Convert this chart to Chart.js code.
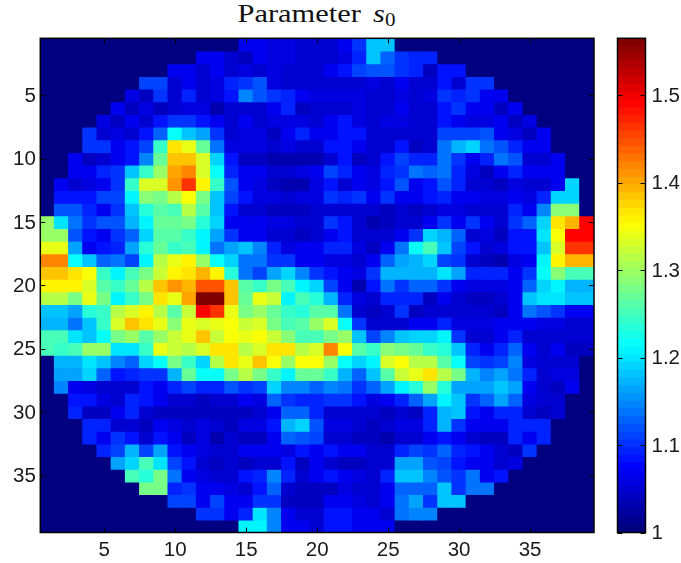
<html>

<head>
  <title>Parameter s0</title>
  <style>
    html, body { margin: 0; padding: 0; background: #fff; }
    #wrap { position: relative; width: 681px; height: 563px; overflow: hidden; }
    canvas { position: absolute; top: 0; }
    #map { left: 0; }
    #bar { left: 600px; }
    #title {
      position: absolute; left: 0; width: 634px; top: 0; text-align: center;
      font: 26px "Liberation Serif", serif; color: #111; line-height: 28px;
    }
    #title span { display: inline-block; transform: scaleX(1.17); white-space: nowrap; }
    #title i { margin-left: 4px; }
    #title sub { font-size: 18px; line-height: 0; font-style: normal; vertical-align: -4px; }
  </style>
  <script src="https://cdnjs.cloudflare.com/ajax/libs/Chart.js/4.4.1/chart.umd.js"></script>
</head>

<body>
  <div id="wrap">
    <div id="title"><span>Parameter <i>s</i><sub>0</sub></span></div>
    <canvas id="map" width="600" height="563"></canvas>
    <canvas id="bar" width="81" height="563"></canvas>
  </div>

  <script>
    const xTicks = [5, 10, 15, 20, 25, 30, 35];
    const yTicks = [5, 10, 15, 20, 25, 30, 35];
    const barTicks = [1, 1.1, 1.2, 1.3, 1.4, 1.5];
    const barMin = 1;
    const barMax = 1.565;
    const columns = [];
    for (let c = 1; c <= 39; c++) columns.push(c);

    const row01 = [1,1,1,1,1,1,1,1,1,1,1,1,1,1, 1.07,1.07,1.06,1.06,1.05,1.05,1.05,1.07,1.1,1.18,1.18, 1,1,1,1,1,1,1,1,1,1,1,1,1,1];
    const row02 = [1,1,1,1,1,1,1,1,1,1,1, 1.07,1.07,1.05,1.04,1.07,1.06,1.06,1.05,1.05,1.05,1.06,1.09,1.18,1.13,1.1,1.09,1.09, 1,1,1,1,1,1,1,1,1,1,1];
    const row03 = [1,1,1,1,1,1,1,1,1, 1.07,1.07,1.05,1.07,1.05,1.06,1.05,1.06,1.05,1.05,1.05,1.07,1.08,1.11,1.12,1.12,1.1,1.09,1.04,1.08,1.08, 1,1,1,1,1,1,1,1,1];
    const row04 = [1,1,1,1,1,1,1, 1.11,1.11,1.05,1.07,1.05,1.06,1.09,1.1,1.12,1.06,1.05,1.05,1.05,1.05,1.05,1.05,1.06,1.05,1.07,1.05,1.05,1.08,1.05,1.1,1.1, 1,1,1,1,1,1,1];
    const row05 = [1,1,1,1,1,1, 1.06,1.04,1.1,1.05,1.09,1.05,1.06,1.08,1.15,1.12,1.1,1.09,1.07,1.06,1.06,1.06,1.06,1.05,1.05,1.06,1.05,1.06,1.1,1.09,1.1,1.07,1.07, 1,1,1,1,1,1];
    const row06 = [1,1,1,1,1, 1.07,1.04,1.06,1.04,1.05,1.06,1.06,1.03,1.05,1.05,1.05,1.07,1.09,1.04,1.05,1.05,1.05,1.06,1.05,1.05,1.07,1.05,1.05,1.08,1.1,1.07,1.07,1.04,1.07, 1,1,1,1,1];
    const row07 = [1,1,1,1, 1.06,1.04,1.07,1.05,1.08,1.1,1.1,1.08,1.07,1.05,1.07,1.05,1.06,1.06,1.06,1.05,1.07,1.08,1.06,1.05,1.06,1.06,1.05,1.05,1.08,1.07,1.06,1.06,1.07,1.04,1.06, 1,1,1,1];
    const row08 = [1,1,1, 1.1,1.05,1.06,1.05,1.08,1.13,1.22,1.18,1.16,1.1,1.05,1.06,1.06,1.04,1.07,1.09,1.07,1.07,1.08,1.08,1.05,1.05,1.05,1.05,1.05,1.11,1.11,1.11,1.12,1.07,1.06,1.04,1.07, 1,1,1];
    const row09 = [1,1,1, 1.1,1.1,1.07,1.08,1.11,1.24,1.37,1.34,1.27,1.14,1.06,1.06,1.06,1.05,1.06,1.05,1.05,1.08,1.08,1.07,1.05,1.05,1.08,1.04,1.05,1.14,1.17,1.19,1.14,1.12,1.09,1.07,1.07, 1,1,1];
    const row10 = [1,1, 1.07,1.04,1.05,1.07,1.08,1.15,1.27,1.38,1.38,1.33,1.19,1.08,1.04,1.04,1.03,1.03,1.03,1.03,1.05,1.08,1.04,1.05,1.08,1.11,1.09,1.09,1.14,1.1,1.07,1.09,1.14,1.12,1.05,1.05,1.07, 1,1];
    const row11 = [1,1, 1.07,1.07,1.09,1.1,1.18,1.24,1.3,1.4,1.42,1.33,1.22,1.09,1.07,1.07,1.05,1.05,1.06,1.07,1.11,1.09,1.07,1.06,1.09,1.1,1.14,1.13,1.14,1.09,1.06,1.04,1.07,1.09,1.07,1.07,1.07, 1,1];
    const row12 = [1, 1.07,1.05,1.06,1.07,1.1,1.24,1.33,1.33,1.41,1.46,1.36,1.24,1.12,1.07,1.06,1.04,1.03,1.03,1.06,1.08,1.05,1.07,1.06,1.08,1.12,1.07,1.08,1.12,1.09,1.05,1.05,1.04,1.06,1.05,1.05,1.07,1.19, 1];
    const row13 = [1, 1.08,1.08,1.08,1.11,1.11,1.21,1.29,1.28,1.31,1.35,1.28,1.18,1.11,1.08,1.06,1.06,1.05,1.06,1.06,1.1,1.09,1.1,1.07,1.1,1.07,1.07,1.08,1.09,1.07,1.07,1.06,1.06,1.07,1.06,1.09,1.19,1.19, 1];
    const row14 = [1, 1.12,1.12,1.09,1.07,1.1,1.18,1.23,1.26,1.25,1.31,1.26,1.18,1.08,1.05,1.05,1.04,1.04,1.04,1.05,1.05,1.05,1.05,1.05,1.04,1.05,1.04,1.05,1.06,1.06,1.05,1.05,1.05,1.09,1.07,1.15,1.29,1.29, 1];
    const row15 = [1.3,1.2,1.14,1.1,1.12,1.12,1.17,1.21,1.27,1.27,1.28,1.23,1.19,1.07,1.07,1.07,1.06,1.06,1.05,1.05,1.1,1.08,1.05,1.03,1.04,1.05,1.05,1.07,1.1,1.07,1.1,1.07,1.05,1.1,1.13,1.19,1.37,1.39,1.49];
    const row16 = [1.3,1.3,1.12,1.08,1.07,1.1,1.13,1.19,1.26,1.26,1.24,1.21,1.16,1.1,1.07,1.07,1.05,1.05,1.04,1.05,1.07,1.08,1.05,1.05,1.05,1.07,1.1,1.19,1.17,1.13,1.05,1.06,1.04,1.08,1.08,1.2,1.35,1.49,1.49];
    const row17 = [1.34,1.34,1.16,1.07,1.08,1.09,1.16,1.23,1.27,1.24,1.25,1.21,1.14,1.16,1.18,1.15,1.09,1.06,1.07,1.07,1.09,1.09,1.06,1.04,1.07,1.14,1.22,1.25,1.18,1.11,1.08,1.05,1.06,1.08,1.08,1.18,1.33,1.46,1.46];
    const row18 = [1.42,1.42,1.22,1.18,1.13,1.14,1.11,1.21,1.31,1.34,1.36,1.3,1.22,1.19,1.14,1.14,1.1,1.1,1.07,1.07,1.06,1.06,1.05,1.07,1.13,1.16,1.17,1.19,1.11,1.1,1.05,1.04,1.03,1.06,1.07,1.21,1.36,1.39,1.39];
    const row19 = [1.38,1.38,1.37,1.35,1.24,1.21,1.25,1.28,1.32,1.36,1.37,1.39,1.36,1.23,1.14,1.11,1.16,1.19,1.15,1.1,1.08,1.07,1.06,1.1,1.17,1.17,1.17,1.17,1.2,1.16,1.09,1.09,1.09,1.07,1.1,1.22,1.29,1.25,1.25];
    const row20 = [1.36,1.36,1.36,1.33,1.26,1.24,1.27,1.31,1.38,1.41,1.39,1.45,1.45,1.38,1.26,1.24,1.28,1.25,1.21,1.19,1.11,1.07,1.03,1.08,1.14,1.1,1.13,1.13,1.1,1.07,1.06,1.06,1.06,1.07,1.13,1.19,1.21,1.17,1.17];
    const row21 = [1.31,1.31,1.28,1.34,1.28,1.21,1.24,1.28,1.37,1.34,1.4,1.56,1.56,1.38,1.27,1.34,1.32,1.21,1.25,1.23,1.17,1.09,1.06,1.05,1.09,1.09,1.09,1.04,1.07,1.05,1.04,1.04,1.05,1.07,1.18,1.2,1.2,1.18,1.18];
    const row22 = [1.18,1.18,1.16,1.23,1.24,1.31,1.33,1.36,1.31,1.26,1.32,1.49,1.46,1.34,1.28,1.3,1.27,1.24,1.23,1.26,1.26,1.14,1.05,1.04,1.05,1.1,1.04,1.05,1.05,1.05,1.05,1.05,1.04,1.07,1.14,1.12,1.1,1.07,1.07];
    const row23 = [1.17,1.17,1.14,1.18,1.24,1.33,1.38,1.37,1.34,1.29,1.34,1.33,1.34,1.35,1.32,1.33,1.28,1.25,1.26,1.3,1.33,1.22,1.1,1.05,1.05,1.05,1.07,1.07,1.09,1.06,1.06,1.06,1.07,1.07,1.07,1.06,1.06,1.05,1.05];
    const row24 = [1.25,1.25,1.2,1.18,1.22,1.28,1.3,1.26,1.3,1.32,1.34,1.38,1.32,1.35,1.34,1.35,1.32,1.29,1.25,1.25,1.28,1.3,1.18,1.11,1.15,1.18,1.19,1.19,1.21,1.1,1.05,1.05,1.07,1.09,1.05,1.05,1.05,1.05,1.05];
    const row25 = [1.25,1.24,1.25,1.3,1.3,1.2,1.2,1.24,1.34,1.32,1.31,1.33,1.37,1.37,1.31,1.33,1.37,1.37,1.31,1.33,1.42,1.35,1.26,1.24,1.29,1.28,1.27,1.24,1.23,1.18,1.09,1.07,1.09,1.13,1.07,1.05,1.07,1.04,1.04];
    const row26 = [1, 1.17,1.17,1.2,1.18,1.15,1.13,1.19,1.22,1.28,1.24,1.19,1.31,1.37,1.34,1.38,1.35,1.3,1.35,1.35,1.3,1.22,1.19,1.21,1.33,1.35,1.31,1.31,1.26,1.22,1.11,1.1,1.11,1.15,1.06,1.05,1.05,1.05, 1];
    const row27 = [1, 1.16,1.16,1.19,1.13,1.08,1.09,1.1,1.1,1.17,1.27,1.22,1.22,1.28,1.31,1.28,1.24,1.21,1.27,1.27,1.24,1.17,1.13,1.18,1.26,1.32,1.34,1.37,1.31,1.28,1.17,1.15,1.16,1.14,1.09,1.05,1.06,1.06, 1];
    const row28 = [1, 1.15,1.07,1.06,1.05,1.05,1.05,1.08,1.07,1.09,1.11,1.09,1.09,1.12,1.1,1.11,1.19,1.15,1.15,1.13,1.15,1.14,1.1,1.13,1.16,1.21,1.23,1.3,1.23,1.16,1.16,1.16,1.18,1.16,1.07,1.05,1.04,1.07, 1];
    const row29 = [1,1, 1.08,1.08,1.06,1.05,1.09,1.08,1.07,1.05,1.05,1.04,1.05,1.05,1.07,1.06,1.13,1.1,1.09,1.09,1.1,1.1,1.08,1.06,1.07,1.09,1.13,1.16,1.21,1.18,1.1,1.13,1.16,1.13,1.06,1.05,1.05, 1,1];
    const row30 = [1,1, 1.09,1.04,1.04,1.07,1.09,1.05,1.04,1.04,1.04,1.04,1.04,1.04,1.04,1.05,1.07,1.13,1.13,1.09,1.05,1.05,1.05,1.05,1.04,1.05,1.04,1.09,1.17,1.18,1.08,1.07,1.09,1.09,1.05,1.04,1.05, 1,1];
    const row31 = [1,1,1, 1.09,1.09,1.05,1.05,1.04,1.07,1.06,1.05,1.06,1.05,1.04,1.06,1.06,1.08,1.17,1.19,1.12,1.06,1.06,1.05,1.04,1.05,1.06,1.06,1.09,1.17,1.1,1.07,1.07,1.07,1.09,1.09,1.09, 1,1,1];
    const row32 = [1,1,1, 1.09,1.07,1.1,1.08,1.05,1.08,1.07,1.04,1.06,1.03,1.05,1.04,1.04,1.07,1.13,1.12,1.11,1.05,1.05,1.04,1.04,1.03,1.05,1.05,1.07,1.08,1.07,1.05,1.04,1.04,1.09,1.07,1.09, 1,1,1];
    const row33 = [1,1,1,1, 1.09,1.11,1.17,1.11,1.16,1.08,1.07,1.06,1.05,1.05,1.07,1.07,1.07,1.06,1.08,1.07,1.08,1.07,1.07,1.05,1.05,1.09,1.11,1.1,1.13,1.09,1.08,1.07,1.05,1.04,1.1, 1,1,1,1];
    const row34 = [1,1,1,1,1, 1.16,1.19,1.25,1.2,1.11,1.08,1.05,1.04,1.05,1.04,1.05,1.05,1.08,1.04,1.07,1.05,1.04,1.04,1.05,1.05,1.16,1.16,1.12,1.11,1.08,1.07,1.07,1.05,1.06, 1,1,1,1,1];
    const row35 = [1,1,1,1,1,1, 1.25,1.23,1.28,1.14,1.07,1.06,1.05,1.05,1.08,1.09,1.15,1.09,1.05,1.07,1.08,1.07,1.06,1.05,1.09,1.18,1.18,1.15,1.12,1.1,1.14,1.07,1.08, 1,1,1,1,1,1];
    const row36 = [1,1,1,1,1,1,1, 1.28,1.28,1.09,1.1,1.07,1.07,1.06,1.05,1.08,1.13,1.05,1.04,1.04,1.04,1.06,1.05,1.05,1.07,1.13,1.13,1.13,1.18,1.1,1.14,1.14, 1,1,1,1,1,1,1];
    const row37 = [1,1,1,1,1,1,1,1,1, 1.11,1.11,1.07,1.11,1.07,1.07,1.1,1.1,1.04,1.04,1.04,1.07,1.07,1.06,1.05,1.07,1.14,1.16,1.1,1.18,1.18, 1,1,1,1,1,1,1,1,1];
    const row38 = [1,1,1,1,1,1,1,1,1,1,1, 1.1,1.1,1.07,1.09,1.2,1.15,1.07,1.05,1.05,1.08,1.08,1.07,1.07,1.05,1.14,1.15,1.15, 1,1,1,1,1,1,1,1,1,1,1];
    const row39 = [1,1,1,1,1,1,1,1,1,1,1,1,1,1, 1.21,1.21,1.15,1.07,1.07,1.05,1.08,1.08,1.07,1.07,1.07, 1,1,1,1,1,1,1,1,1,1,1,1,1,1];

    const rows = [row01, row02, row03, row04, row05, row06, row07, row08, row09, row10, row11, row12, row13,
      row14, row15, row16, row17, row18, row19, row20, row21, row22, row23, row24, row25, row26,
      row27, row28, row29, row30, row31, row32, row33, row34, row35, row36, row37, row38, row39];

    // matlab style jet, 64 steps
    const clamp = v => Math.max(0, Math.min(1, v));
    function jet(i) {
      const t = i / 63;
      const r = clamp(Math.min(4 * t - 1.5, -4 * t + 4.5));
      const g = clamp(Math.min(4 * t - 0.5, -4 * t + 3.5));
      const b = clamp(Math.min(4 * t + 0.5, -4 * t + 2.5));
      return `rgb(${Math.round(r * 255)},${Math.round(g * 255)},${Math.round(b * 255)})`;
    }
    const colorOf = v => jet(Math.min(63, Math.floor((v - barMin) / (barMax - barMin) * 64)));

    const tickFont = { family: '"Liberation Sans", Arial, sans-serif', size: 20.5 };

    // matlab draws the ticks inward and a box all round
    const boxTicks = {
      id: 'boxTicks',
      afterDatasetsDraw(chart) {
        const { ctx, chartArea: a, scales } = chart;
        const len = 5;
        ctx.save();
        ctx.strokeStyle = '#000';
        ctx.lineWidth = 1;
        ctx.beginPath();
        scales.x.ticks.forEach(t => {
          if (!scales.x.options.display || !xTicks.includes(t.value + 1)) return;
          const x = Math.round(scales.x.getPixelForValue(t.value)) + 0.5;
          ctx.moveTo(x, a.top); ctx.lineTo(x, a.top + len);
          ctx.moveTo(x, a.bottom); ctx.lineTo(x, a.bottom - len);
        });
        scales.y.ticks.forEach(t => {
          const y = Math.round(scales.y.getPixelForValue(t.value)) + 0.5;
          ctx.moveTo(a.left, y); ctx.lineTo(a.left + len, y);
          ctx.moveTo(a.right, y); ctx.lineTo(a.right - len, y);
        });
        ctx.stroke();
        ctx.lineWidth = 1.5;
        ctx.strokeRect(a.left, a.top, a.right - a.left, a.bottom - a.top);
        ctx.restore();
      }
    };

    new Chart(document.getElementById('map'), {
      type: 'bar',
      plugins: [boxTicks],
      data: {
        labels: columns,
        datasets: rows.map((row, i) => ({
          data: row.map(() => [i + 0.5, i + 1.5]),
          backgroundColor: row.map(colorOf),
          barPercentage: 1,
          categoryPercentage: 1,
          grouped: false,
          borderWidth: 0,
          inflateAmount: 0.6,
        })),
      },
      options: {
        responsive: false,
        animation: false,
        layout: { padding: { top: 38.3, right: 6, left: 0, bottom: 0 } },
        plugins: { legend: { display: false }, tooltip: { enabled: false } },
        scales: {
          x: {
            grid: { display: false, drawTicks: false },
            border: { display: false },
            afterFit: s => { s.height = 30.5; },
            ticks: {
              autoSkip: false, maxRotation: 0, padding: 6, color: '#1a1a1a', font: tickFont,
              callback(v) { const n = this.getLabelForValue(v); return xTicks.includes(n) ? String(n) : ''; },
            },
          },
          y: {
            reverse: true,
            min: 0.5,
            max: 39.5,
            grid: { display: false, drawTicks: false },
            border: { display: false },
            afterFit: s => { s.width = 40.3; },
            afterBuildTicks: s => { s.ticks = yTicks.map(v => ({ value: v })); },
            ticks: { padding: 4.5, labelOffset: 1, color: '#1a1a1a', font: tickFont },
          },
        },
      },
    });

    // colour bar
    const barLevels = [];
    for (let i = 0; i < 64; i++) barLevels.push(i);
    const step = (barMax - barMin) / 64;

    new Chart(document.getElementById('bar'), {
      type: 'bar',
      plugins: [boxTicks],
      data: {
        labels: ['s0'],
        datasets: barLevels.map(i => ({
          data: [[barMin + i * step, barMin + (i + 1) * step]],
          backgroundColor: jet(i),
          barPercentage: 1,
          categoryPercentage: 1,
          grouped: false,
          borderWidth: 0,
          inflateAmount: 0.6,
        })),
      },
      options: {
        responsive: false,
        animation: false,
        layout: { padding: { top: 38.3, right: 0, left: 17.5, bottom: 30.5 } },
        plugins: { legend: { display: false }, tooltip: { enabled: false } },
        scales: {
          x: { display: false },
          y: {
            position: 'right',
            min: barMin,
            max: barMax,
            grid: { display: false, drawTicks: false },
            border: { display: false },
            afterFit: s => { s.width = 35.5; },
            afterBuildTicks: s => { s.ticks = barTicks.map(v => ({ value: v })); },
            ticks: { padding: 6, labelOffset: 1, color: '#1a1a1a', font: tickFont, callback: v => String(v) },
          },
        },
      },
    });
  </script>
</body>

</html>
